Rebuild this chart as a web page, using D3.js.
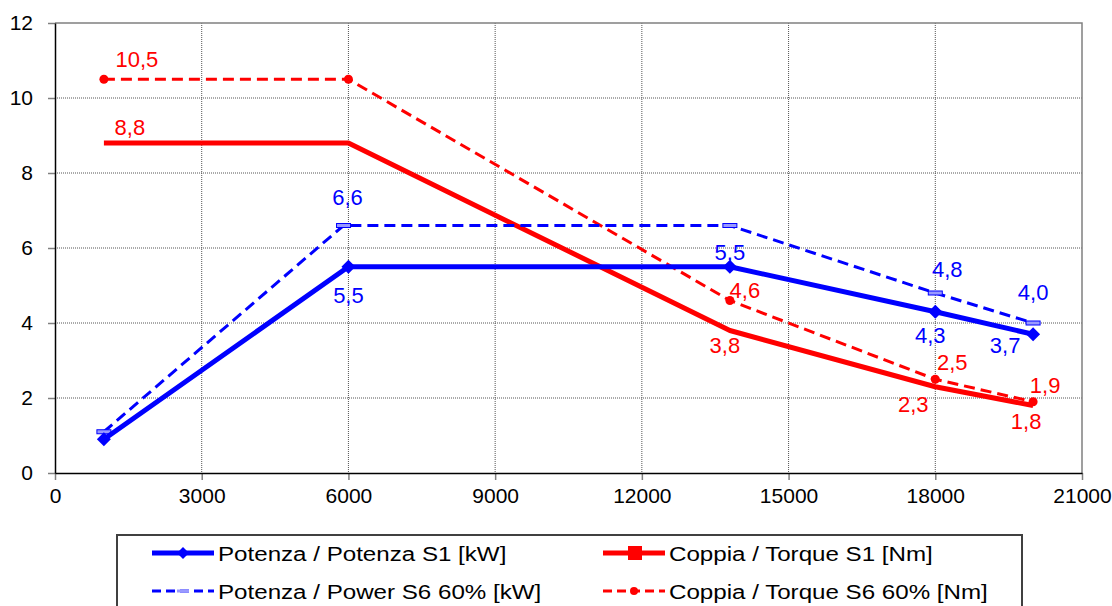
<!DOCTYPE html>
<html lang="en">
	<head>
		<meta charset="utf-8">
		<title>D3: Potenza / Coppia</title>
		<script src="https://cdn.jsdelivr.net/npm/d3@7"></script>
		<style type="text/css">
			body { margin: 0; background: #fff; }
			text { font-family: "Liberation Sans", Arial, sans-serif; }
			.axis text { font-size: 21px; fill: #000; }
			.axis .domain { stroke: #000; stroke-width: 1.5; }
			.axis .tick line { stroke: #808080; stroke-width: 1.5; }
			.grid { stroke: #555; stroke-width: 1; stroke-dasharray: 1, 1; }
			.frame { stroke: #808080; stroke-width: 1.5; fill: none; }
			.label { font-size: 22px; text-anchor: middle; }
			.legendText { font-size: 21px; fill: #000; }
		</style>
	</head>
	<body>
		<script>

			//Data
			var speeds = [1000, 6000, 13800, 18000, 20000];
			var speedsPowerS6 = [1000, 5900, 13800, 18000, 20000];
			var powerS1 = [0.9, 5.5, 5.5, 4.3, 3.7];
			var powerS6 = [1.1, 6.6, 6.6, 4.8, 4.0];
			var torqueS1 = [8.8, 8.8, 3.8, 2.3, 1.8];
			var torqueS6 = [10.5, 10.5, 4.6, 2.5, 1.9];
			var xTicks = [0, 3000, 6000, 9000, 12000, 15000, 18000, 21000];
			var yTicks = [0, 2, 4, 6, 8, 10, 12];
			var seriesNames = [
				"Potenza / Potenza S1 [kW]",
				"Coppia / Torque S1 [Nm]",
				"Potenza / Power S6 60% [kW]",
				"Coppia / Torque S6 60% [Nm]"
			];

			//Label offsets from each point (null = no label)
			var offPowerS1 = [null, [0, 36], [0, -7], [-5, 31], [-28, 19]];
			var offPowerS6 = [null, [4, -21], null, [12, -16], [0, -23]];
			var offTorqueS1 = [[26, -8], null, [-5, 22], [-22, 25], [-7, 23]];
			var offTorqueS6 = [[33, -12], null, [15, -3], [17, -9], [12, -9]];

			var w = 1112;
			var h = 606;
			var blue = "#0000ff";
			var red = "#ff0000";

			var it = d3.formatLocale({ decimal: ",", thousands: ".", grouping: [3], currency: ["", "€"] });
			var fmt = it.format(".1f");

			var xScale = d3.scaleLinear().domain([0, 21000]).range([55, 1082]);
			var yScale = d3.scaleLinear().domain([0, 12]).range([473, 23]);

			var svg = d3.select("body")
						.append("svg")
						.attr("width", w)
						.attr("height", h);

			//Gridlines
			svg.append("g").selectAll("line")
				.data(xTicks.slice(1, -1))
				.enter().append("line")
				.attr("class", "grid")
				.attr("x1", function(d) { return xScale(d); })
				.attr("x2", function(d) { return xScale(d); })
				.attr("y1", yScale(12))
				.attr("y2", yScale(0));

			svg.append("g").selectAll("line")
				.data(yTicks.slice(1, -1))
				.enter().append("line")
				.attr("class", "grid")
				.attr("x1", xScale(0))
				.attr("x2", xScale(21000))
				.attr("y1", function(d) { return yScale(d); })
				.attr("y2", function(d) { return yScale(d); });

			//Top and right frame
			svg.append("path")
				.attr("class", "frame")
				.attr("d", "M" + xScale(0) + "," + yScale(12) + "H" + xScale(21000) + "V" + yScale(0));

			//Axes
			svg.append("g")
				.attr("class", "axis")
				.attr("transform", "translate(0," + yScale(0) + ")")
				.call(d3.axisBottom(xScale).tickValues(xTicks).tickFormat(d3.format("d")).tickSize(7).tickSizeOuter(0).tickPadding(8));

			svg.append("g")
				.attr("class", "axis")
				.attr("transform", "translate(" + xScale(0) + ",0)")
				.call(d3.axisLeft(yScale).tickValues(yTicks).tickSize(7).tickSizeOuter(0).tickPadding(15));

			svg.selectAll(".axis .domain").raise();

			var series = [
				{ xs: speeds, ys: torqueS1, color: red, width: 5, dash: null, marker: null, off: offTorqueS1 },
				{ xs: speeds, ys: torqueS6, color: red, width: 3, dash: "11,6", marker: "circle", off: offTorqueS6 },
				{ xs: speedsPowerS6, ys: powerS6, color: blue, width: 3, dash: "11,6", marker: "dash", off: offPowerS6 },
				{ xs: speeds, ys: powerS1, color: blue, width: 5, dash: null, marker: "diamond", off: offPowerS1 }
			];

			var line = d3.line()
						.x(function(d) { return xScale(d[0]); })
						.y(function(d) { return yScale(d[1]); });

			series.forEach(function(s) {
				var pts = s.xs.map(function(x, i) { return [x, s.ys[i]]; });

				svg.append("path")
					.datum(pts)
					.attr("fill", "none")
					.attr("stroke", s.color)
					.attr("stroke-width", s.width)
					.attr("stroke-linejoin", "round")
					.attr("stroke-dasharray", s.dash)
					.attr("d", line);

				var g = svg.append("g");
				pts.forEach(function(p) {
					var cx = xScale(p[0]), cy = yScale(p[1]);
					if (s.marker === "circle") {
						g.append("circle").attr("cx", cx).attr("cy", cy).attr("r", 4.5).attr("fill", s.color);
					} else if (s.marker === "diamond") {
						g.append("path").attr("d", "M" + cx + "," + (cy - 7) + "l7,7l-7,7l-7,-7z").attr("fill", s.color);
					} else if (s.marker === "dash") {
						g.append("rect").attr("x", cx - 7).attr("y", cy - 2).attr("width", 14).attr("height", 4)
							.attr("fill", "#9999ff").attr("stroke", s.color).attr("stroke-width", 1);
					}
				});

				svg.append("g").selectAll("text")
					.data(pts.filter(function(p, i) { return s.off[i]; }).map(function(p) {
						return { p: p, o: s.off[s.xs.indexOf(p[0])] };
					}))
					.enter().append("text")
					.attr("class", "label")
					.attr("fill", s.color)
					.attr("x", function(d) { return xScale(d.p[0]) + d.o[0]; })
					.attr("y", function(d) { return yScale(d.p[1]) + d.o[1]; })
					.text(function(d) { return fmt(d.p[1]); });
			});

			//Legend
			var legend = svg.append("g");
			legend.append("rect")
				.attr("x", 117)
				.attr("y", 535)
				.attr("width", 905)
				.attr("height", 90)
				.attr("fill", "#fff")
				.attr("stroke", "#404040")
				.attr("stroke-width", 2);

			var legendItems = [
				{ x: 152, y: 553, s: series[3], name: seriesNames[0] },
				{ x: 603, y: 553, s: series[0], name: seriesNames[1], square: true },
				{ x: 152, y: 591, s: series[2], name: seriesNames[2] },
				{ x: 603, y: 591, s: series[1], name: seriesNames[3] }
			];

			legendItems.forEach(function(item) {
				var s = item.s;
				var lg = legend.append("g").attr("transform", "translate(" + item.x + "," + item.y + ")");
				lg.append("line")
					.attr("x1", 0).attr("x2", 62).attr("y1", 0).attr("y2", 0)
					.attr("stroke", s.color)
					.attr("stroke-width", s.width)
					.attr("stroke-dasharray", s.dash ? "9,5" : null);
				if (item.square) {
					lg.append("rect").attr("x", 25).attr("y", -7).attr("width", 14).attr("height", 14).attr("fill", s.color);
				} else if (s.marker === "diamond") {
					lg.append("path").attr("d", "M31,-6l6,6l-6,6l-6,-6z").attr("fill", s.color);
				} else if (s.marker === "circle") {
					lg.append("circle").attr("cx", 31).attr("cy", 0).attr("r", 4).attr("fill", s.color);
				} else if (s.marker === "dash") {
					lg.append("rect").attr("x", 25).attr("y", -1.5).attr("width", 12).attr("height", 3).attr("fill", "#9999ff");
				}
				lg.append("g")
					.attr("transform", "translate(66,7.5) scale(1.15,1)")
					.append("text")
					.attr("class", "legendText")
					.text(item.name);
			});

		</script>
	</body>
</html>
